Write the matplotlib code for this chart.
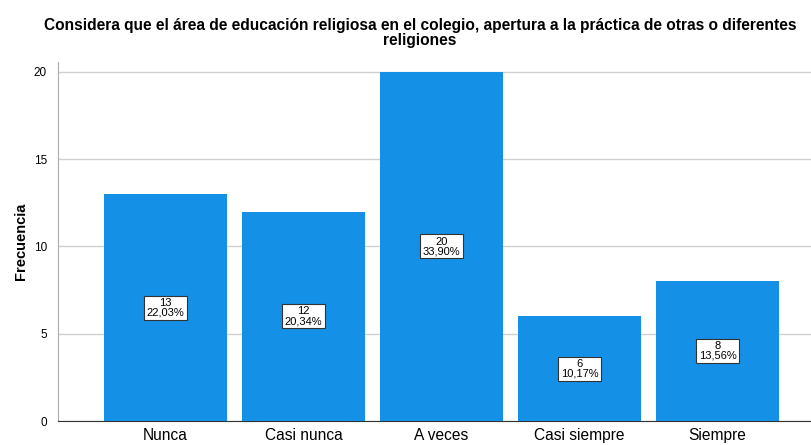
import matplotlib
matplotlib.use('Agg')
import matplotlib.pyplot as plt

plt.rcParams['font.family'] = ['Liberation Sans', 'DejaVu Sans']

categorias = ['Nunca', 'Casi nunca', 'A veces', 'Casi siempre', 'Siempre']
frecuencias = [13, 12, 20, 6, 8]
porcentajes = ['22,03%', '20,34%', '33,90%', '10,17%', '13,56%']

fig = plt.figure(figsize=(8.12, 4.45), dpi=100)
ax = fig.add_axes([58/812, 1 - 421/445, 1 - 58/812, (421 - 62)/445])

x = list(range(len(categorias)))
ax.bar(x, frecuencias, width=0.89, color='#1490e6', zorder=3)

for xi, f, p in zip(x, frecuencias, porcentajes):
    ax.text(xi, f/2, '{}\n{}'.format(f, p), ha='center', va='center', fontsize=8,
            linespacing=0.95, zorder=4,
            bbox=dict(boxstyle='square,pad=0.2', fc='white', ec='#333333', lw=0.8))

ax.set_xlim(-0.779, 4.685)
ax.set_ylim(0, 20.57)
ax.set_yticks([0, 5, 10, 15, 20])
ax.set_xticks(x)
ax.set_xticklabels(categorias, fontsize=11.2)
ax.tick_params(axis='y', labelsize=8.5, length=0, pad=8)
ax.tick_params(axis='x', length=0, pad=5)
ax.grid(axis='y', color='#d0d0d0', lw=1, zorder=0)
ax.set_ylabel('Frecuencia', fontsize=10.5, fontweight='semibold', labelpad=4)

for s in ['top', 'right']:
    ax.spines[s].set_visible(False)
ax.spines['left'].set_color('#aaaaaa')
ax.spines['bottom'].set_color('#333333')

fig.text(0.517, 1 - 33/445, 'Considera que el área de educación religiosa en el colegio, apertura a la práctica de otras o diferentes\nreligiones',
         ha='center', va='center', fontsize=11.2, fontweight='bold', linespacing=0.95)

fig.savefig('out.png', dpi=100)
